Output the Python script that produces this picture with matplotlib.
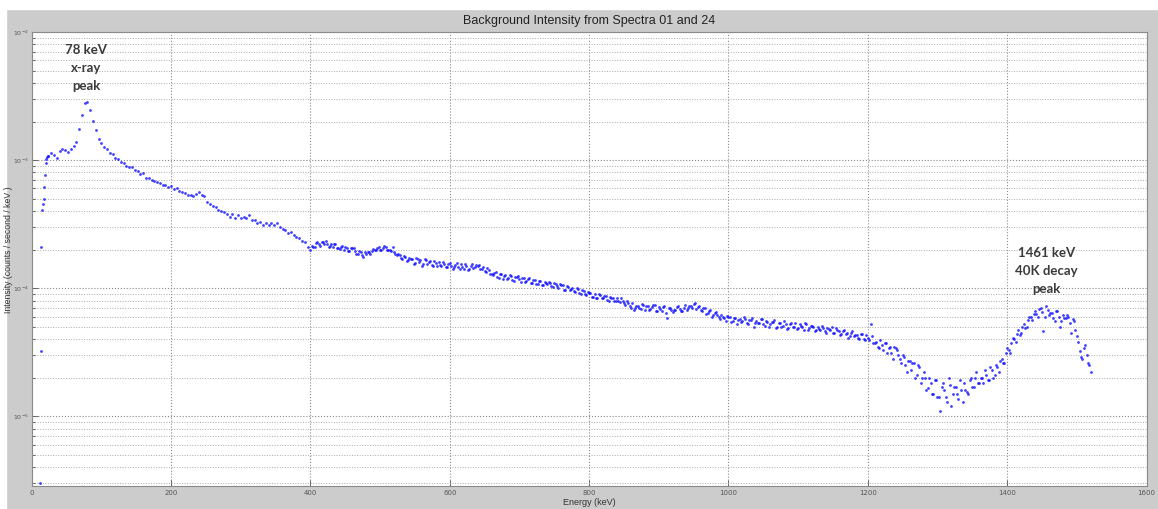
import numpy as np
import matplotlib.pyplot as plt
from matplotlib.patches import Rectangle
from matplotlib.ticker import LogLocator, NullFormatter

# low energy channels, 1 keV apart (units of 1e-4 counts / s / keV)
energy_low = np.arange(12, 24)
intensity_low = [0.03, 0.32, 2.1, 4.1, 4.5, 5.0, 6.2, 7.6, 9.5, 10.2, 10.5, 10.7]

# spectrum read every 4 keV (units of 1e-4 counts / s / keV)
energy_main = np.arange(24, 1521, 4)
intensity_main = [
    10.7, 11.4, 10.9, 10.4, 11.8, 12.3, 12.0, 11.6, 12.1, 12.8,      # 24-60
    13.9, 17.5, 22.6, 27.8, 28.5, 24.8, 20.2, 17.1, 14.6, 13.6,      # 64-100
    12.7, 12.1, 11.3, 11.1, 10.4, 10.2, 9.6, 9.5, 9.0, 8.9,          # 104-140
    8.8, 8.4, 8.2, 7.8, 7.9, 7.3, 7.3, 7.0, 6.9, 6.7,                # 144-180
    6.6, 6.4, 6.4, 6.2, 6.3, 5.9, 6.0, 5.7, 5.6, 5.5,                # 184-220
    5.3, 5.3, 5.2, 5.4, 5.6, 5.3, 5.2, 4.7, 4.5, 4.4,                # 224-260
    4.3, 4.1, 4.0, 3.9, 3.8, 3.6, 3.8, 3.5, 3.7, 3.5,                # 264-300
    3.6, 3.5, 3.7, 3.4, 3.4, 3.2, 3.3, 3.1, 3.2, 3.1,                # 304-340
    3.2, 3.1, 3.2, 3.0, 2.9, 2.85, 2.7, 2.75, 2.6, 2.5,              # 344-380
    2.45, 2.35, 2.3, 2.1, 2.0, 2.1, 2.25, 2.2, 2.3, 2.2,             # 384-420
    2.2, 2.15, 2.1, 2.2, 2.05, 2.1, 2.0, 2.05, 1.95, 2.05,           # 424-460
    1.95, 1.85, 1.9, 1.75, 1.85, 1.9, 1.95, 2.0, 2.05, 2.0,          # 464-500
    2.05, 2.1, 2.0, 1.95, 1.9, 1.8, 1.8, 1.7, 1.75, 1.65,            # 504-540
    1.7, 1.55, 1.72, 1.6, 1.5, 1.68, 1.55, 1.62, 1.5, 1.58,          # 544-580
    1.6, 1.48, 1.55, 1.45, 1.58, 1.42, 1.52, 1.45, 1.55, 1.4,        # 584-620
    1.5, 1.42, 1.55, 1.45, 1.5, 1.4, 1.46, 1.33, 1.38, 1.28,         # 624-660
    1.32, 1.22, 1.3, 1.18, 1.27, 1.2, 1.24, 1.14, 1.22, 1.17,        # 664-700
    1.2, 1.12, 1.18, 1.1, 1.16, 1.07, 1.14, 1.05, 1.12, 1.08,        # 704-740
    1.1, 1.02, 1.08, 1.0, 1.05, 0.97, 1.03, 0.96, 1.0, 0.93,         # 744-780
    0.98, 0.9, 0.95, 0.88, 0.92, 0.85, 0.9, 0.84, 0.88, 0.83,        # 784-820
    0.87, 0.8, 0.84, 0.79, 0.83, 0.78, 0.8, 0.74, 0.76, 0.7,         # 824-860
    0.68, 0.73, 0.7, 0.75, 0.67, 0.72, 0.69, 0.74, 0.66, 0.71,       # 864-900
    0.66, 0.72, 0.58, 0.7, 0.65, 0.68, 0.72, 0.66, 0.7, 0.67,        # 904-940
    0.73, 0.7, 0.76, 0.71, 0.67, 0.7, 0.63, 0.66, 0.6, 0.64,         # 944-980
    0.62, 0.57, 0.6, 0.55, 0.6, 0.54, 0.58, 0.52, 0.57, 0.55,        # 984-1020
    0.57, 0.52, 0.56, 0.5, 0.55, 0.53, 0.57, 0.51, 0.54, 0.52,       # 1024-1060
    0.54, 0.49, 0.53, 0.5, 0.55, 0.48, 0.52, 0.5, 0.53, 0.49,        # 1064-1100
    0.51, 0.47, 0.52, 0.49, 0.51, 0.46, 0.5, 0.47, 0.49, 0.45,       # 1104-1140
    0.48, 0.5, 0.45, 0.47, 0.43, 0.46, 0.44, 0.41, 0.45, 0.42,       # 1144-1180
    0.43, 0.4, 0.44, 0.39, 0.41, 0.52, 0.37, 0.38, 0.34, 0.36,       # 1184-1220
    0.37, 0.31, 0.35, 0.28, 0.34, 0.3, 0.26, 0.29, 0.22, 0.27,       # 1224-1260
    0.26, 0.2, 0.25, 0.18, 0.22, 0.16, 0.2, 0.15, 0.19, 0.14,        # 1264-1300
    0.11, 0.18, 0.14, 0.2, 0.12, 0.17, 0.15, 0.19, 0.13, 0.16,       # 1304-1340
    0.15, 0.2, 0.17, 0.22, 0.18, 0.2, 0.23, 0.19, 0.24, 0.2,         # 1344-1380
    0.25, 0.22, 0.28, 0.26, 0.34, 0.31, 0.41, 0.38, 0.47, 0.45,      # 1384-1420
    0.52, 0.5, 0.6, 0.56, 0.66, 0.6, 0.7, 0.46, 0.72, 0.62,          # 1424-1460
    0.64, 0.55, 0.66, 0.5, 0.62, 0.58, 0.6, 0.45, 0.55, 0.42,        # 1464-1500
    0.32, 0.28, 0.36, 0.26, 0.22,                                    # 1504-1520
]

# in-between channels of the noisy part, read every 4 keV from 402 keV
energy_mid = np.arange(402, 1519, 4)
intensity_mid = [
    2.12, 2.08, 2.3, 2.15, 2.28, 2.35, 2.1, 2.2, 2.22, 2.04,         # 402-438
    2.02, 2.15, 2.1, 1.95, 2.04, 2.06, 1.86, 1.96, 1.82, 1.9,        # 442-478
    1.93, 1.84, 2.02, 1.97, 2.1, 2.0, 2.12, 1.98, 1.99, 2.08,        # 482-518
    1.84, 1.86, 1.72, 1.78, 1.64, 1.72, 1.7, 1.58, 1.68, 1.66,       # 522-558
    1.55, 1.66, 1.6, 1.52, 1.64, 1.5, 1.52, 1.6, 1.46, 1.55,         # 562-598
    1.5, 1.45, 1.58, 1.42, 1.47, 1.53, 1.38, 1.5, 1.44, 1.52,        # 602-638
    1.52, 1.4, 1.36, 1.44, 1.3, 1.27, 1.34, 1.2, 1.28, 1.25,         # 642-678
    1.18, 1.26, 1.15, 1.22, 1.25, 1.12, 1.2, 1.13, 1.19, 1.1,        # 682-718
    1.15, 1.08, 1.14, 1.06, 1.1, 1.12, 1.03, 1.09, 1.04, 1.07,       # 722-758
    1.05, 0.97, 1.02, 0.98, 0.95, 1.0, 0.92, 0.97, 0.9, 0.93,        # 762-798
    0.91, 0.86, 0.84, 0.9, 0.83, 0.87, 0.81, 0.86, 0.84, 0.79,       # 802-838
    0.8, 0.83, 0.76, 0.79, 0.72, 0.76, 0.7, 0.73, 0.69, 0.74,        # 842-878
    0.72, 0.67, 0.71, 0.74, 0.66, 0.69, 0.71, 0.64, 0.7, 0.68,       # 882-918
    0.67, 0.71, 0.69, 0.66, 0.74, 0.7, 0.72, 0.75, 0.69, 0.73,       # 922-958
    0.66, 0.7, 0.64, 0.67, 0.62, 0.65, 0.6, 0.62, 0.58, 0.61,        # 962-998
    0.59, 0.55, 0.58, 0.56, 0.54, 0.59, 0.53, 0.56, 0.58, 0.53,      # 1002-1038
    0.53, 0.57, 0.52, 0.55, 0.5, 0.54, 0.56, 0.5, 0.53, 0.51,        # 1042-1078
    0.52, 0.49, 0.53, 0.5, 0.48, 0.52, 0.5, 0.53, 0.47, 0.51,        # 1082-1118
    0.5, 0.47, 0.48, 0.51, 0.46, 0.49, 0.47, 0.45, 0.49, 0.46,       # 1122-1158
    0.44, 0.47, 0.45, 0.42, 0.46, 0.43, 0.41, 0.44, 0.4, 0.43,       # 1162-1198
    0.39, 0.42, 0.37, 0.35, 0.39, 0.33, 0.37, 0.34, 0.31, 0.35,      # 1202-1238
    0.33, 0.28, 0.3, 0.25, 0.27, 0.23, 0.26, 0.21, 0.24, 0.2,        # 1242-1278
    0.2, 0.165, 0.18, 0.15, 0.19, 0.14, 0.17, 0.16, 0.13, 0.175,     # 1282-1318
    0.15, 0.17, 0.135, 0.16, 0.18, 0.155, 0.19, 0.17, 0.2, 0.18,     # 1322-1358
    0.2, 0.18, 0.21, 0.19, 0.23, 0.21, 0.24, 0.27, 0.26, 0.31,       # 1362-1398
    0.33, 0.37, 0.4, 0.44, 0.43, 0.5, 0.49, 0.56, 0.6, 0.63,         # 1402-1438
    0.63, 0.69, 0.65, 0.6, 0.67, 0.64, 0.58, 0.66, 0.6, 0.55,        # 1442-1478
    0.58, 0.62, 0.53, 0.57, 0.47, 0.38, 0.29, 0.34, 0.3, 0.25,       # 1482-1518
]

energy = np.concatenate([energy_low, energy_main, energy_mid])
intensity = np.array(intensity_low + intensity_main + intensity_mid) * 1e-4

title = "Background Intensity from Spectra 01 and 24"
xlabel = "Energy (keV)"
ylabel = "Intensity (counts / second / keV )"
note_xray = "78 keV\nx-ray\npeak"
note_k40 = "1461 keV\n40K decay\npeak"

W, H = 1158, 509
fig = plt.figure(figsize=(W / 100, H / 100), dpi=100, facecolor='#cccccc')
# white margins of the screenshot
fig.patches.append(Rectangle((0, 0), 6 / W, 1, transform=fig.transFigure,
                             color='white', zorder=-1))
fig.patches.append(Rectangle((0, 1 - 9 / H), 1, 9 / H, transform=fig.transFigure,
                             color='white', zorder=-1))

ax = fig.add_axes([31.7 / W, 1 - 486 / H, (1146.5 - 31.7) / W, (486 - 32) / H])
ax.set_facecolor('white')
ax.semilogy(energy, intensity, 'o', color='#1010ff', ms=2.0, mew=0, alpha=0.8)

ax.set_xlim(0, 1600)
ax.set_ylim(2.85e-6, 1e-2)
ax.set_xticks(np.arange(0, 1601, 200))
ax.yaxis.set_major_locator(LogLocator(base=10, numticks=10))
ax.yaxis.set_minor_locator(LogLocator(base=10, subs=np.arange(2, 10), numticks=50))
ax.yaxis.set_minor_formatter(NullFormatter())

ax.tick_params(axis='both', which='both', direction='in', labelsize=5,
               colors='#555555', width=0.6)
ax.tick_params(axis='y', which='major', labelsize=4.5, pad=2)
ax.tick_params(which='major', length=4)
ax.tick_params(which='minor', length=2)
ax.tick_params(axis='x', pad=3)

ax.grid(True, which='major', linestyle=':', color='#8a8a8a', linewidth=0.8)
ax.grid(True, which='minor', axis='y', linestyle=':', color='#a8a8a8', linewidth=0.7)
for sp in ax.spines.values():
    sp.set_color('#8a8a8a')
    sp.set_linewidth(0.8)

ax.set_title(title, fontsize=9, family='Liberation Sans', color='#222222', pad=6)
ax.set_xlabel(xlabel, fontsize=6.5, family='Liberation Sans', color='#333333', labelpad=1)
ax.set_ylabel(ylabel, fontsize=6.3, family='Liberation Sans', color='#333333')
ax.yaxis.set_label_coords(-0.0165, 0.52)

ax.text(78, 10 ** (-2 - (68 - 32) / 128), note_xray, ha='center', va='center',
        fontsize=9.5, family='Lato', fontweight='bold', color='#3a3a3a',
        linespacing=1.6)
ax.text(1456, 10 ** (-2 - (271 - 32) / 128), note_k40, ha='center', va='center',
        fontsize=9.5, family='Lato', fontweight='bold', color='#3a3a3a',
        linespacing=1.6)

fig.savefig('out.png', dpi=100, facecolor=fig.get_facecolor())
